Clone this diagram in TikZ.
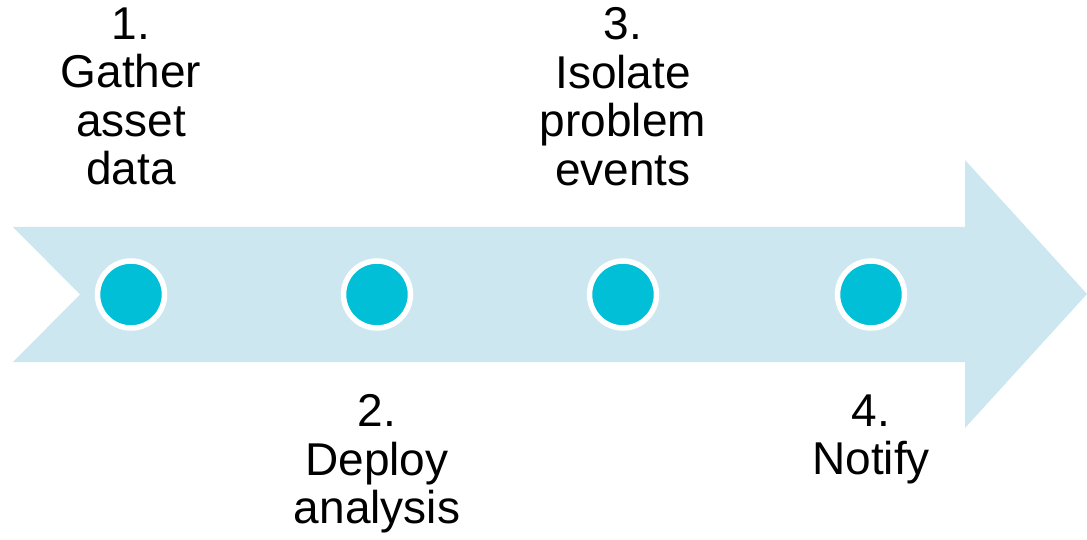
\documentclass[tikz,border=0pt]{standalone}
\usepackage{fontspec}
\setmainfont{Liberation Sans}
\definecolor{arrowblue}{HTML}{CCE7EF}
\definecolor{dotcyan}{HTML}{00BFD6}
\begin{document}
\begin{tikzpicture}[x=1pt,y=-1pt,
  dot/.style={circle,fill=dotcyan,draw=white,line width=5.5pt,minimum size=67pt,inner sep=0pt},
  label/.style={align=center,inner sep=0pt,anchor=north,font=\fontsize{46}{48.5}\selectfont}]
\useasboundingbox (0,0) rectangle (1087,540);
\fill[arrowblue] (13,227) -- (965,227) -- (965,160) -- (1087,294) -- (965,428) -- (965,362) -- (13,362) -- (80,294.5) -- cycle;
\node[dot] (c1) at (131,294.5) {};
\node[dot] (c2) at (377,294.5) {};
\node[dot] (c3) at (623,294.5) {};
\node[dot] (c4) at (871,294.5) {};
\node[label] (t1) at (131,7.5) {1.\\Gather\\asset\\data};
\node[label] (t2) at (377,394.5) {2.\\Deploy\\analysis};
\node[label] (t3) at (623,7.5) {3.\\Isolate\\problem\\events};
\node[label] (t4) at (871,394.5) {4.\\Notify};
\end{tikzpicture}
\end{document}
